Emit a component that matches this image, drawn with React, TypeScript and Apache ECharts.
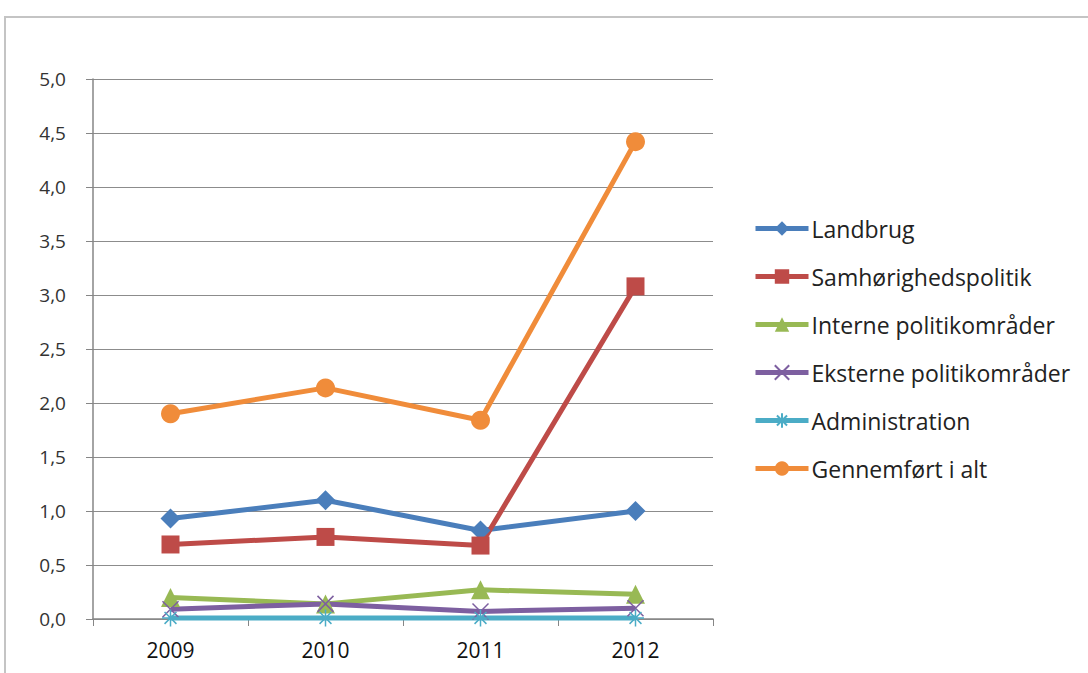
import React, { useEffect, useRef } from "react";
import * as echarts from "echarts";

const years = ["2009", "2010", "2011", "2012"];
const landbrug = [0.93, 1.10, 0.82, 1.00];
const samhoerighed = [0.69, 0.76, 0.68, 3.08];
const interne = [0.20, 0.14, 0.27, 0.23];
const eksterne = [0.09, 0.14, 0.07, 0.10];
const administration = [0.01, 0.01, 0.01, 0.01];
const gennemfoert = [1.90, 2.14, 1.84, 4.42];
const yTicks = ["0,0", "0,5", "1,0", "1,5", "2,0", "2,5", "3,0", "3,5", "4,0", "4,5", "5,0"];

const crossPath = "path://M0,0 L10,10 M10,0 L0,10";
const starPath = "path://M0,5 L10,5 M5,0 L5,10 M1.5,1.5 L8.5,8.5 M8.5,1.5 L1.5,8.5";

export default function App() {
  const ref = useRef<HTMLDivElement>(null);
  useEffect(() => {
    if (!ref.current) return;
    const chart = echarts.init(ref.current, null, { renderer: "svg" });
    const mk = (name: string, data: number[], color: string, symbol: string, size: number, stroke = false) => ({
      name,
      type: "line",
      data,
      symbol,
      symbolSize: size,
      lineStyle: { color, width: 5 },
      itemStyle: stroke
        ? { color: color, borderColor: color, borderWidth: 1.5 }
        : { color },
      emphasis: { disabled: true },
    });
    chart.setOption({
      animation: false,
      textStyle: { fontFamily: "Open Sans" },
      grid: { left: 93, right: 375, top: 79, bottom: 54 },
      graphic: [
        {
          type: "rect",
          shape: { x: 5, y: 17, width: 1200, height: 800 },
          style: { fill: "none", stroke: "#c4c4c4", lineWidth: 2 },
          silent: true,
        },
      ],
      legend: {
        orient: "vertical",
        left: 748,
        top: 212,
        itemWidth: 53,
        itemHeight: 18,
        itemGap: 25,
        lineStyle: { width: 5 },
        textStyle: { fontSize: 23, color: "#222", fontFamily: "Open Sans", padding: [0, 0, 0, -2] },
        data: [
          "Landbrug",
          "Samhørighedspolitik",
          "Interne politikområder",
          "Eksterne politikområder",
          "Administration",
          "Gennemført i alt",
        ],
      },
      xAxis: {
        type: "category",
        data: years,
        boundaryGap: true,
        axisLine: { lineStyle: { color: "#868686", width: 1.5 } },
        axisTick: { show: true, length: 7, lineStyle: { color: "#868686" } },
        axisLabel: { fontSize: 21, color: "#111", margin: 20, fontFamily: "Open Sans" },
      },
      yAxis: {
        type: "value",
        min: 0,
        max: 5,
        interval: 0.5,
        axisLine: { show: true, lineStyle: { color: "#868686", width: 1.5 } },
        axisTick: { show: true, length: 7, lineStyle: { color: "#868686" } },
        splitLine: { lineStyle: { color: "#8c8c8c", width: 1 } },
        axisLabel: {
          fontSize: 19,
          color: "#333",
          margin: 27,
          fontFamily: "Open Sans",
          formatter: (v: number) => yTicks[Math.round(v * 2)] ?? "",
        },
      },
      series: [
        mk("Landbrug", landbrug, "#4A7EBB", "diamond", 20),
        mk("Samhørighedspolitik", samhoerighed, "#BE4B48", "rect", 18),
        mk("Interne politikområder", interne, "#98B954", "triangle", 19),
        mk("Eksterne politikområder", eksterne, "#7D5FA0", crossPath, 16, true),
        mk("Administration", administration, "#4BACC6", starPath, 17, true),
        mk("Gennemført i alt", gennemfoert, "#F08C3A", "circle", 19),
      ],
    });
    return () => chart.dispose();
  }, []);
  return (
    <div
      ref={ref}
      style={{ position: "fixed", left: 0, top: 0, width: 1088, height: 673, background: "#fff" }}
    />
  );
}
